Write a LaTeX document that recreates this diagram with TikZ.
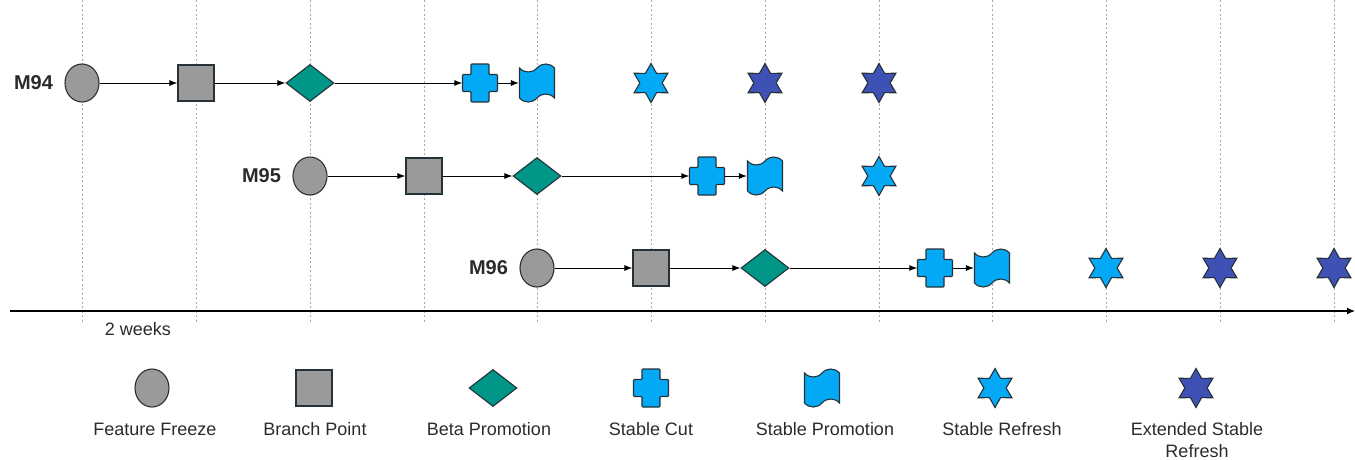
\documentclass[tikz,border=0pt]{standalone}
\usepackage{fontspec}
\setmainfont{Liberation Sans}
\usetikzlibrary{shapes.geometric, shapes.symbols, arrows.meta, positioning}

\definecolor{ffgray}{HTML}{9A9A9A}
\definecolor{betateal}{HTML}{009688}
\definecolor{stableblue}{HTML}{03A9F4}
\definecolor{extblue}{HTML}{3F51B5}
\definecolor{edge}{HTML}{263238}
\definecolor{gridgray}{HTML}{A8A8A8}
\definecolor{txt}{HTML}{2B2B2B}

% plus shaped stable cut: empty box for the arrows, polygon on top
\newcommand{\stablecut}[2]{%
	\node[cutbox] (#1) at (#2) {};
	\draw[cutline] ([shift={(-9,-19)}]#1.center) -- ++(18,0) -- ++(0,10.5) -- ++(8.5,0) -- ++(0,17) -- ++(-8.5,0) -- ++(0,10.5) -- ++(-18,0) -- ++(0,-10.5) -- ++(-8.5,0) -- ++(0,-17) -- ++(8.5,0) -- cycle;
}

\begin{document}
\begin{tikzpicture}[x=1pt, y=-1pt,
	weekline/.style={draw=gridgray, dash pattern=on 2pt off 2.5pt, line width=0.8pt},
	shp/.style={draw=edge, line width=1.1pt, inner sep=0pt},
	ffnode/.style={shp, ellipse, fill=ffgray, minimum width=34pt, minimum height=38pt},
	bpnode/.style={shp, rectangle, fill=ffgray, minimum size=36pt},
	betanode/.style={shp, diamond, fill=betateal, minimum width=48pt, minimum height=37pt},
	cutbox/.style={inner sep=0pt, minimum width=35pt, minimum height=38pt},
	cutline/.style={draw=edge, line width=1.1pt, fill=stableblue, rounded corners=0.8pt},
	promnode/.style={shp, tape, fill=stableblue, minimum width=35pt, minimum height=38pt, tape bend top=in and out, tape bend bottom=in and out, tape bend height=8pt},
	refnode/.style={shp, star, star points=6, star point ratio=1.75, fill=stableblue, minimum size=39pt},
	extnode/.style={refnode, fill=extblue},
	flow/.style={-{Latex[length=8pt,width=6pt]}, line width=1pt},
	rel/.style={font=\fontsize{20}{23}\selectfont\bfseries, text=txt},
	lbl/.style={font=\fontsize{18}{22}\selectfont, text=txt, align=center}]
	\useasboundingbox (0,0) rectangle (1355,459);

	\draw[weekline] (82,0)--(82,323);
	\draw[weekline] (196,0)--(196,323);
	\draw[weekline] (310,0)--(310,323);
	\draw[weekline] (424,0)--(424,323);
	\draw[weekline] (537,0)--(537,323);
	\draw[weekline] (651,0)--(651,323);
	\draw[weekline] (765,0)--(765,323);
	\draw[weekline] (879,0)--(879,323);
	\draw[weekline] (992,0)--(992,323);
	\draw[weekline] (1106,0)--(1106,323);
	\draw[weekline] (1220,0)--(1220,323);
	\draw[weekline] (1334,0)--(1334,323);

	\coordinate (axstart) at (10,311);
	\coordinate (axend) at (1355,311);
	\draw[-{Latex[length=8pt,width=7pt]}, line width=1.2pt] (axstart)--(axend);
	\node[lbl] (weeks) at (138,329) {2 weeks};

	% M94
	\node[ffnode] (ff94) at (82,83) {};
	\node[rel, left=8pt of ff94] (m94) {M94};
	\node[bpnode] (bp94) at (196,83) {};
	\node[betanode] (beta94) at (310,83) {};
	\stablecut{cut94}{480,83}
	\node[promnode] (prom94) at (537,83) {};
	\node[refnode] (ref94) at (651,83) {};
	\node[extnode] (exta94) at (765,83) {};
	\node[extnode] (extb94) at (879,83) {};
	\draw[flow] (ff94)--(bp94);
	\draw[flow] (bp94)--(beta94);
	\draw[flow] (beta94)--(cut94);
	\draw[flow] (cut94)--(prom94);

	% M95
	\node[ffnode] (ff95) at (310,176) {};
	\node[rel, left=8pt of ff95] (m95) {M95};
	\node[bpnode] (bp95) at (424,176) {};
	\node[betanode] (beta95) at (537,176) {};
	\stablecut{cut95}{707,176}
	\node[promnode] (prom95) at (765,176) {};
	\node[refnode] (ref95) at (879,176) {};
	\draw[flow] (ff95)--(bp95);
	\draw[flow] (bp95)--(beta95);
	\draw[flow] (beta95)--(cut95);
	\draw[flow] (cut95)--(prom95);

	% M96
	\node[ffnode] (ff96) at (537,268) {};
	\node[rel, left=8pt of ff96] (m96) {M96};
	\node[bpnode] (bp96) at (651,268) {};
	\node[betanode] (beta96) at (765,268) {};
	\stablecut{cut96}{935,268}
	\node[promnode] (prom96) at (992,268) {};
	\node[refnode] (ref96) at (1106,268) {};
	\node[extnode] (exta96) at (1220,268) {};
	\node[extnode] (extb96) at (1334,268) {};
	\draw[flow] (ff96)--(bp96);
	\draw[flow] (bp96)--(beta96);
	\draw[flow] (beta96)--(cut96);
	\draw[flow] (cut96)--(prom96);

	% legend
	\node[ffnode] (lff) at (152,388) {};
	\node[bpnode] (lbp) at (314,388) {};
	\node[betanode] (lbeta) at (493,388) {};
	\stablecut{lcut}{651,388}
	\node[promnode] (lprom) at (822,388) {};
	\node[refnode] (lref) at (995,388) {};
	\node[extnode] (lext) at (1196,388) {};
	\node[lbl] (tff) at (155,429) {Feature Freeze};
	\node[lbl] (tbp) at (315,429) {Branch Point};
	\node[lbl] (tbeta) at (489,429) {Beta Promotion};
	\node[lbl] (tcut) at (651,429) {Stable Cut};
	\node[lbl] (tprom) at (825,429) {Stable Promotion};
	\node[lbl] (tref) at (1002,429) {Stable Refresh};
	\node[lbl] (text) at (1197,440) {Extended Stable\\Refresh};
\end{tikzpicture}
\end{document}
